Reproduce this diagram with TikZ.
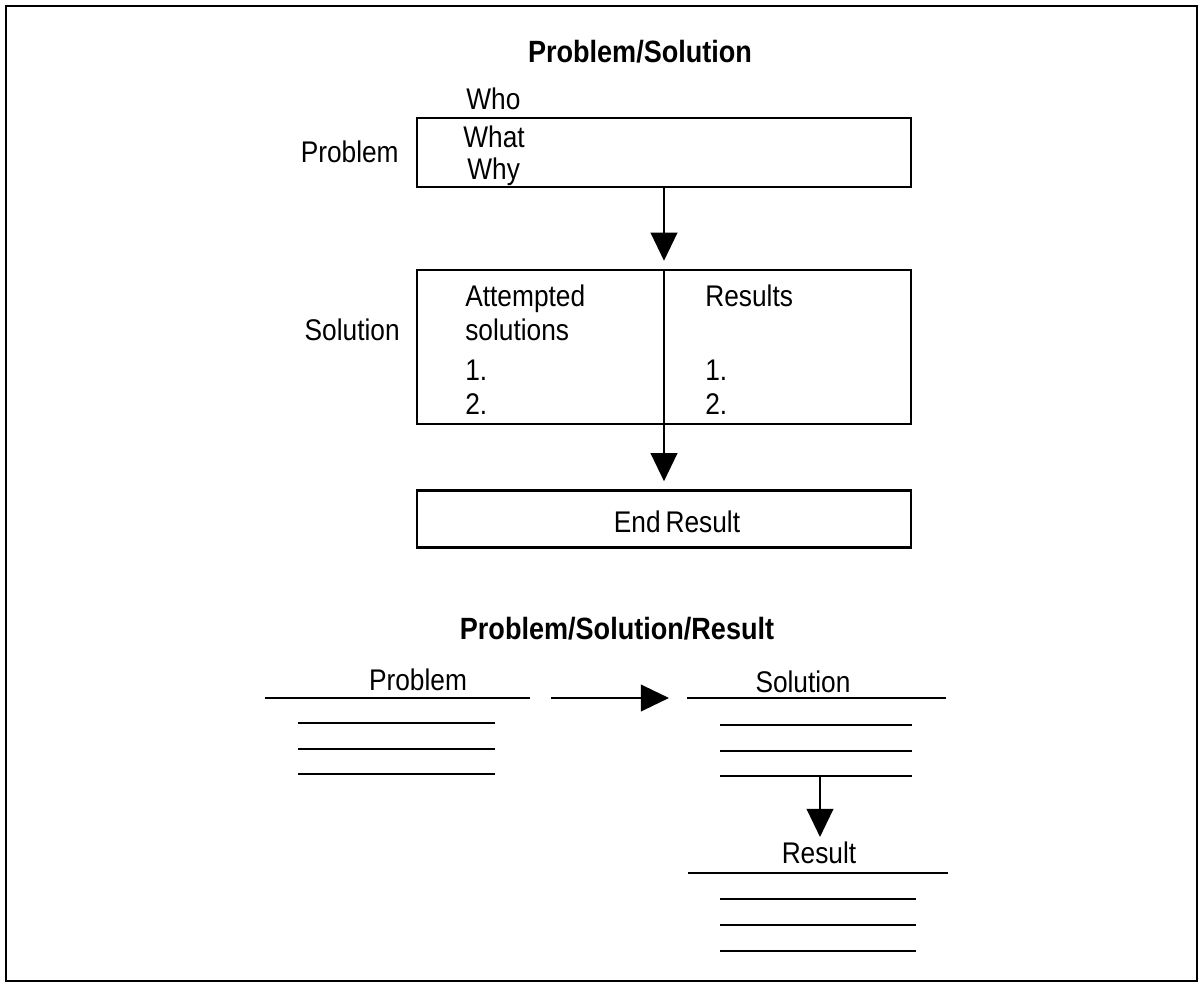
\documentclass[tikz,border=0pt]{standalone}
\usepackage{fontspec}
\setmainfont{Liberation Sans}[FakeStretch=0.88]
\usetikzlibrary{arrows.meta}
\tikzset{
  caja/.style={draw, line width=1.4pt, inner sep=0pt, minimum width=9.88cm},
  txt/.style={anchor=base west, inner sep=0pt, font=\fontsize{17}{20}\selectfont},
  ctxt/.style={anchor=base, inner sep=0pt, font=\fontsize{17}{20}\selectfont},
  titulo/.style={anchor=base, inner sep=0pt, font=\fontsize{17.5}{20}\selectfont\bfseries},
  flecha/.style={line width=1.6pt, -{Triangle[length=16pt,width=15pt]}},
  raya/.style={line width=1.6pt}
}
\begin{document}
\begin{tikzpicture}[x=0.02cm, y=-0.02cm]
  \useasboundingbox (0,0) rectangle (1198,983);
  \draw[line width=1.2pt] (6,6) rectangle (1197,981);
  % parte de arriba
  \node[titulo] (tit1) at (640,63) {Problem/Solution};
  \node[caja, minimum height=1.38cm] (prob) at (664,152.5) {};
  \node[caja, minimum height=3.08cm] (sol) at (664,347) {};
  \node[caja, minimum height=1.14cm] (fin) at (664,519) {};
  \node[txt] (who) at (466,110) {Who};
  \node[txt] (what) at (463,148) {What};
  \node[txt] (why) at (467,180) {Why};
  \node[txt, anchor=base east] (lprob) at (399,163) {Problem};
  \node[txt, anchor=base east] (lsol) at (400,341) {Solution};
  \node[txt] (att) at (465,307) {Attempted};
  \node[txt] (sols) at (465,341) {solutions};
  \node[txt] (a1) at (465,381) {1.};
  \node[txt] (a2) at (465,415) {2.};
  \node[txt] (resu) at (705,307) {Results};
  \node[txt] (r1) at (705,381) {1.};
  \node[txt] (r2) at (705,415) {2.};
  \node[ctxt] (lfin) at (677,532) {End\,Result};
  \draw[flecha, shorten >=0.16cm] (prob.south) -- (sol.north);
  \draw[flecha, shorten >=0.16cm] (sol.north) -- (fin.north);
  % parte de abajo
  \node[titulo] (tit2) at (617,639) {Problem/Solution/Result};
  \node[ctxt] (lp) at (418,690) {Problem};
  \coordinate (pA) at (265,698);
  \coordinate (pB) at (530,698);
  \draw[raya] (pA) -- (pB);
  \foreach \y in {723,749,774}
    \draw[raya] (298,\y) -- (495,\y);
  \node[ctxt] (ls) at (803,692) {Solution};
  \coordinate (sA) at (687,698);
  \coordinate (sB) at (946,698);
  \draw[raya] (sA) -- (sB);
  \foreach \y in {725,751,776}
    \draw[raya] (720,\y) -- (912,\y);
  \coordinate (sC) at (820,776);
  \node[ctxt] (lr) at (819,863) {Result};
  \draw[raya] (688,873) -- (948,873);
  \foreach \y in {899,925,951}
    \draw[raya] (720,\y) -- (916,\y);
  \draw[flecha, shorten <=0.42cm, shorten >=0.36cm] (pB) -- (sA);
  \draw[flecha, shorten >=0.08cm] (sC) -- (sC |- lr.north);
\end{tikzpicture}
\end{document}
